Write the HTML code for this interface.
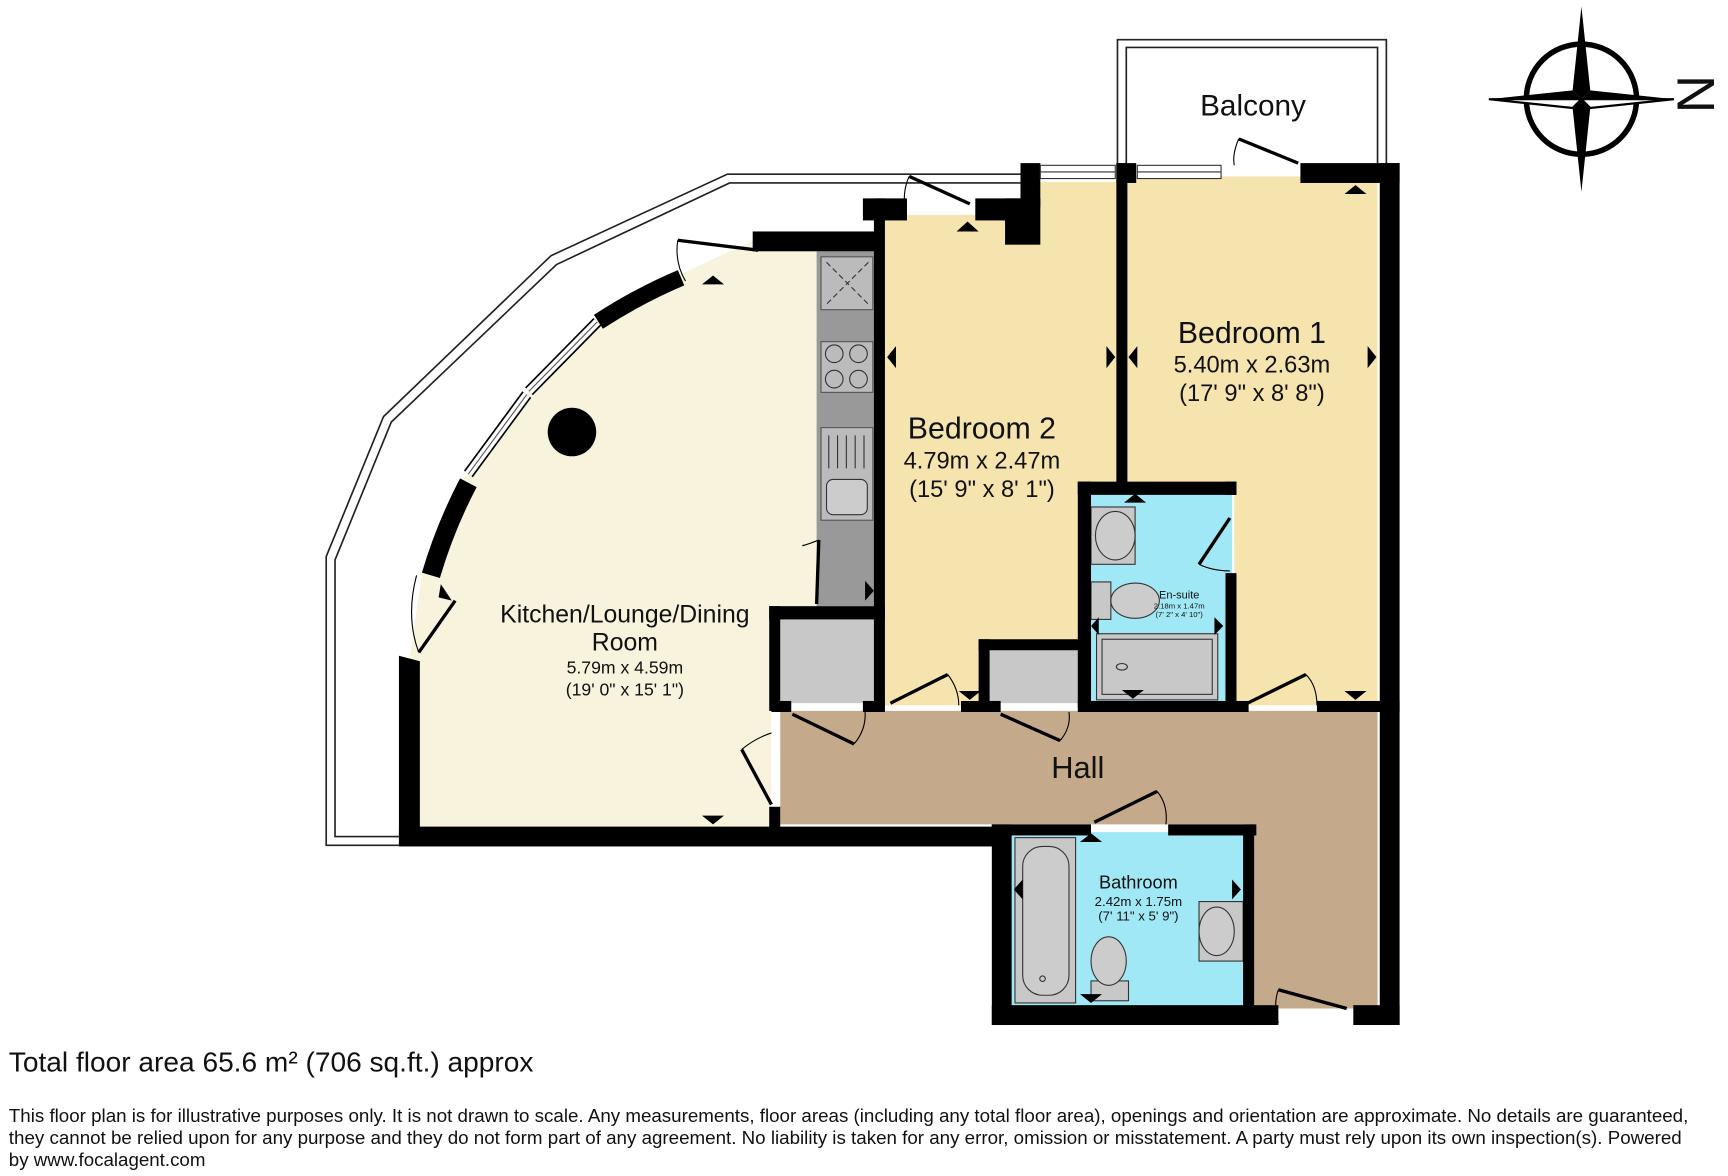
<!DOCTYPE html>
<html><head><meta charset="utf-8"><style>
html,body{margin:0;padding:0;background:#fff;width:1728px;height:1176px;overflow:hidden}
svg{display:block}
text{font-family:"Liberation Sans",Arial,sans-serif;fill:#111}
</style></head><body>
<svg width="1728" height="1176" viewBox="0 0 1568 1067" preserveAspectRatio="none" xmlns="http://www.w3.org/2000/svg">
<polyline points="362,767 296,767 296,505 348,378 500,232 660,158 930,158" fill="none" stroke="#222" stroke-width="1.5"/>
<polyline points="362,759 304,759 304,508 355,383 505,240 662,166 930,166" fill="none" stroke="#222" stroke-width="1.5"/>
<polyline points="1014,150 1014,36 1258,36 1258,150" fill="none" stroke="#222" stroke-width="1.5"/>
<polyline points="1022,150 1022,43 1250,43 1250,150" fill="none" stroke="#222" stroke-width="1.5"/>
<text x="1137" y="105" font-size="27" text-anchor="middle">Balcony</text>

<polygon points="372,767 372,595 383,520 420,435 480,355 545,290 615,250 690,215 745,215 745,555 700,555 700,752 372,752" fill="#f8f3dc"/>
<polygon points="800,195 930,195 930,165 1015,165 1015,440 980,440 980,582 890,582 890,640 800,640" fill="#f6e4ae"/>
<polygon points="1022,160 1250,160 1250,640 1120,640 1120,440 1022,440" fill="#f6e4ae"/>
<polygon points="708,645 1250,645 1250,915 1135,915 1135,748 708,748" fill="#c4a98a"/>
<rect x="988" y="448" width="130" height="190" fill="#a0e8f5"/>
<rect x="918" y="755" width="212" height="158" fill="#a0e8f5"/>
<rect x="741" y="228" width="54" height="322" fill="#999"/>
<rect x="745" y="233" width="47" height="48" fill="#bbb" stroke="#555"/>
<path d="M750,238 L788,276 M788,238 L750,276" stroke="#333" stroke-dasharray="5,3"/>
<rect x="745" y="310" width="47" height="46" fill="#bbb" stroke="#555"/>
<circle cx="757" cy="321" r="8" fill="none" stroke="#333"/><circle cx="779" cy="321" r="8" fill="none" stroke="#333"/>
<circle cx="757" cy="344" r="8" fill="none" stroke="#333"/><circle cx="779" cy="344" r="8" fill="none" stroke="#333"/>
<rect x="745" y="388" width="47" height="84" fill="#bbb" stroke="#555"/>
<path d="M752,395v30M760,395v30M768,395v30M776,395v30M784,395v30" stroke="#333"/>
<rect x="750" y="435" width="37" height="32" rx="6" fill="#ccc" stroke="#333"/>
<rect x="708" y="560" width="87" height="78" fill="#c8c8c8"/>
<rect x="898" y="590" width="82" height="48" fill="#c8c8c8"/>
<rect x="990" y="460" width="40" height="52" fill="#c8c8c8" stroke="#333"/>
<ellipse cx="1012" cy="486" rx="18" ry="22" fill="#ccc" stroke="#333"/>
<rect x="990" y="528" width="18" height="34" fill="#c8c8c8" stroke="#333"/>
<ellipse cx="1030" cy="545" rx="22" ry="16" fill="#ccc" stroke="#333"/>
<rect x="995" y="575" width="110" height="60" fill="#c8c8c8" stroke="#333"/>
<rect x="1000" y="580" width="100" height="50" fill="none" stroke="#333"/>
<ellipse cx="1018" cy="605" rx="5" ry="3" fill="none" stroke="#333"/>
<rect x="921" y="760" width="55" height="150" fill="#c8c8c8" stroke="#333"/>
<rect x="928" y="768" width="42" height="135" rx="18" fill="#ccc" stroke="#333"/>
<circle cx="946" cy="888" r="2.5" fill="none" stroke="#333"/>
<rect x="1088" y="818" width="40" height="54" fill="#c8c8c8" stroke="#333"/>
<ellipse cx="1104" cy="845" rx="16" ry="22" fill="#ccc" stroke="#333"/>
<rect x="990" y="890" width="34" height="18" fill="#c8c8c8" stroke="#333"/>
<ellipse cx="1006" cy="872" rx="16" ry="22" fill="#ccc" stroke="#333"/>

<g fill="#000">
<polygon points="362,767 362,595 381,600 381,767"/>
<rect x="362" y="750" width="548" height="18"/>
<rect x="683" y="210" width="112" height="18"/>
<rect x="793" y="180" width="10" height="460"/>
<rect x="783" y="180" width="40" height="20"/>
<rect x="885" y="180" width="45" height="20"/>
<rect x="912" y="180" width="32" height="42"/>
<rect x="926" y="148" width="18" height="40"/>
<rect x="1013" y="148" width="10" height="292"/>
<rect x="1013" y="148" width="18" height="18"/>
<rect x="1180" y="148" width="90" height="18"/>
<rect x="1252" y="148" width="18" height="782"/>
<rect x="978" y="437" width="144" height="12"/>
<rect x="978" y="437" width="12" height="205"/>
<rect x="1112" y="437" width="10" height="12"/>
<rect x="1112" y="520" width="10" height="122"/>
<rect x="888" y="580" width="92" height="10"/>
<rect x="888" y="580" width="10" height="62"/>
<rect x="698" y="550" width="105" height="12"/>
<rect x="698" y="550" width="10" height="95"/>
<rect x="698" y="732" width="10" height="20"/>
<rect x="700" y="636" width="18" height="10"/>
<rect x="783" y="636" width="20" height="10"/>
<rect x="872" y="636" width="36" height="10"/>
<rect x="978" y="636" width="155" height="10"/>
<rect x="1195" y="636" width="75" height="10"/>
<rect x="900" y="748" width="90" height="10"/>
<rect x="1060" y="748" width="80" height="10"/>
<rect x="900" y="748" width="18" height="182"/>
<rect x="1128" y="748" width="10" height="182"/>
<rect x="900" y="912" width="260" height="18"/>
<rect x="1228" y="912" width="42" height="18"/>
<circle cx="519" cy="392" r="22"/>
</g>
<path d="M391,522 Q404,478 425,438" stroke="#000" stroke-width="17" fill="none"/>
<path d="M543,292 Q580,268 618,252" stroke="#000" stroke-width="15" fill="none"/>
<path d="M425,430 L478,358 M480,355 L542,292" stroke="#000" stroke-width="10" fill="none"/>
<path d="M425,430 L478,358 M480,355 L542,292" stroke="#fff" stroke-width="7" fill="none"/>
<path d="M425,430 L478,358 M480,355 L542,292" stroke="#555" stroke-width="1" fill="none"/>
<rect x="944" y="150" width="68" height="12" fill="#fff" stroke="#333"/>
<line x1="944" y1="156" x2="1012" y2="156" stroke="#333"/>
<rect x="1032" y="150" width="76" height="12" fill="#fff" stroke="#333"/>
<line x1="1032" y1="156" x2="1108" y2="156" stroke="#333"/>
<g stroke="#000" stroke-width="3" fill="none">
<line x1="615" y1="218" x2="688" y2="227"/>
<line x1="380" y1="592" x2="413" y2="545"/>
<line x1="673" y1="680" x2="700" y2="730"/>
<line x1="743" y1="490" x2="741" y2="548"/>
<line x1="719" y1="648" x2="775" y2="675"/>
<line x1="808" y1="638" x2="860" y2="612"/>
<line x1="908" y1="648" x2="962" y2="672"/>
<line x1="1132" y1="638" x2="1185" y2="612"/>
<line x1="1088" y1="512" x2="1116" y2="470"/>
<line x1="993" y1="746" x2="1050" y2="718"/>
<line x1="1160" y1="898" x2="1222" y2="915"/>
<line x1="825" y1="160" x2="880" y2="185"/>
<line x1="1124" y1="126" x2="1178" y2="148"/>
</g>
<g stroke="#000" stroke-width="1" fill="none">
<path d="M615,218 Q612,238 622,255"/>
<path d="M380,592 Q368,560 378,522"/>
<path d="M673,680 Q685,670 700,665"/>
<path d="M775,675 Q786,662 785,646"/>
<path d="M860,612 Q870,625 870,640"/>
<path d="M962,672 Q972,660 970,646"/>
<path d="M1185,612 Q1195,622 1195,640"/>
<path d="M1088,512 Q1100,518 1116,518"/>
<path d="M1050,718 Q1060,730 1058,748"/>
<path d="M1160,898 Q1155,912 1160,928"/>
<path d="M825,160 Q818,175 822,195"/>
<path d="M1124,126 Q1118,140 1120,150"/>
<path d="M743,490 Q730,495 728,495"/>
</g>
<g fill="#000">
<polygon points="637,258 657,258 647,250"/>
<polygon points="637,740 657,740 647,748"/>
<polygon points="868,210 888,210 878,201"/>
<polygon points="1220,176 1240,176 1230,168"/>
<polygon points="1220,627 1240,627 1230,635"/>
<polygon points="870,627 890,627 880,635"/>
<polygon points="1020,456 1040,456 1030,448"/>
<polygon points="1018,626 1038,626 1028,634"/>
<polygon points="980,764 1000,764 990,756"/>
<polygon points="980,902 1000,902 990,910"/>
<polygon points="813,314 813,334 805,324"/>
<polygon points="1004,314 1004,334 1012,324"/>
<polygon points="1032,314 1032,334 1024,324"/>
<polygon points="1241,314 1241,334 1249,324"/>
<polygon points="785,527 785,545 793,536"/>
<polygon points="997,560 997,576 990,568"/>
<polygon points="1102,560 1102,576 1110,568"/>
<polygon points="928,798 928,816 920,807"/>
<polygon points="1118,798 1118,816 1126,807"/>
<polygon points="400,530 410,545 398,542"/>
</g>
<text x="567" y="565" font-size="22.5" text-anchor="middle">Kitchen/Lounge/Dining</text>
<text x="567" y="590" font-size="22.5" text-anchor="middle">Room</text>
<text x="567" y="611" font-size="16" text-anchor="middle">5.79m x 4.59m</text>
<text x="567" y="631" font-size="16" text-anchor="middle">(19' 0" x 15' 1")</text>
<text x="891" y="398" font-size="27.5" text-anchor="middle">Bedroom 2</text>
<text x="891" y="425" font-size="21.5" text-anchor="middle">4.79m x 2.47m</text>
<text x="891" y="451" font-size="21.5" text-anchor="middle">(15' 9" x 8' 1")</text>
<text x="1136" y="311" font-size="27.5" text-anchor="middle">Bedroom 1</text>
<text x="1136" y="338" font-size="21.5" text-anchor="middle">5.40m x 2.63m</text>
<text x="1136" y="364" font-size="21.5" text-anchor="middle">(17' 9" x 8' 8")</text>
<text x="1070" y="543" font-size="10" text-anchor="middle">En-suite</text>
<text x="1070" y="552" font-size="7" text-anchor="middle">2.18m x 1.47m</text>
<text x="1070" y="560" font-size="7" text-anchor="middle">(7' 2" x 4' 10")</text>
<text x="978" y="706" font-size="28" text-anchor="middle">Hall</text>
<text x="1033" y="806" font-size="16.5" text-anchor="middle">Bathroom</text>
<text x="1033" y="822" font-size="12" text-anchor="middle">2.42m x 1.75m</text>
<text x="1033" y="835" font-size="12" text-anchor="middle">(7' 11" x 5' 9")</text>
<g transform="translate(1435,90)">
<circle r="50" fill="none" stroke="#000" stroke-width="5"/>
<polygon points="0,-84 8,-8 0,0 -8,-8" fill="#000"/>
<polygon points="0,84 -8,8 0,0 8,8" fill="#000"/>
<polygon points="-84,0 -8,-8 0,0" fill="#000"/><polygon points="-84,0 -8,8 0,0" fill="#fff" stroke="#000" stroke-width="2"/>
<polygon points="84,0 8,-8 0,0" fill="#000"/><polygon points="84,0 8,8 0,0" fill="#fff" stroke="#000" stroke-width="2"/>
</g>
<text x="1518" y="108" font-size="48" transform="rotate(90 1540 90)">N</text>
<text x="8" y="972" font-size="25.5">Total floor area 65.6 m² (706 sq.ft.) approx</text>
<text x="8" y="1018" font-size="17" textLength="1524" lengthAdjust="spacingAndGlyphs">This floor plan is for illustrative purposes only. It is not drawn to scale. Any measurements, floor areas (including any total floor area), openings and orientation are approximate. No details are guaranteed,</text>
<text x="8" y="1038" font-size="17" textLength="1518" lengthAdjust="spacingAndGlyphs">they cannot be relied upon for any purpose and they do not form part of any agreement. No liability is taken for any error, omission or misstatement. A party must rely upon its own inspection(s). Powered</text>
<text x="8" y="1058" font-size="17">by www.focalagent.com</text>
</svg>
</body></html>
